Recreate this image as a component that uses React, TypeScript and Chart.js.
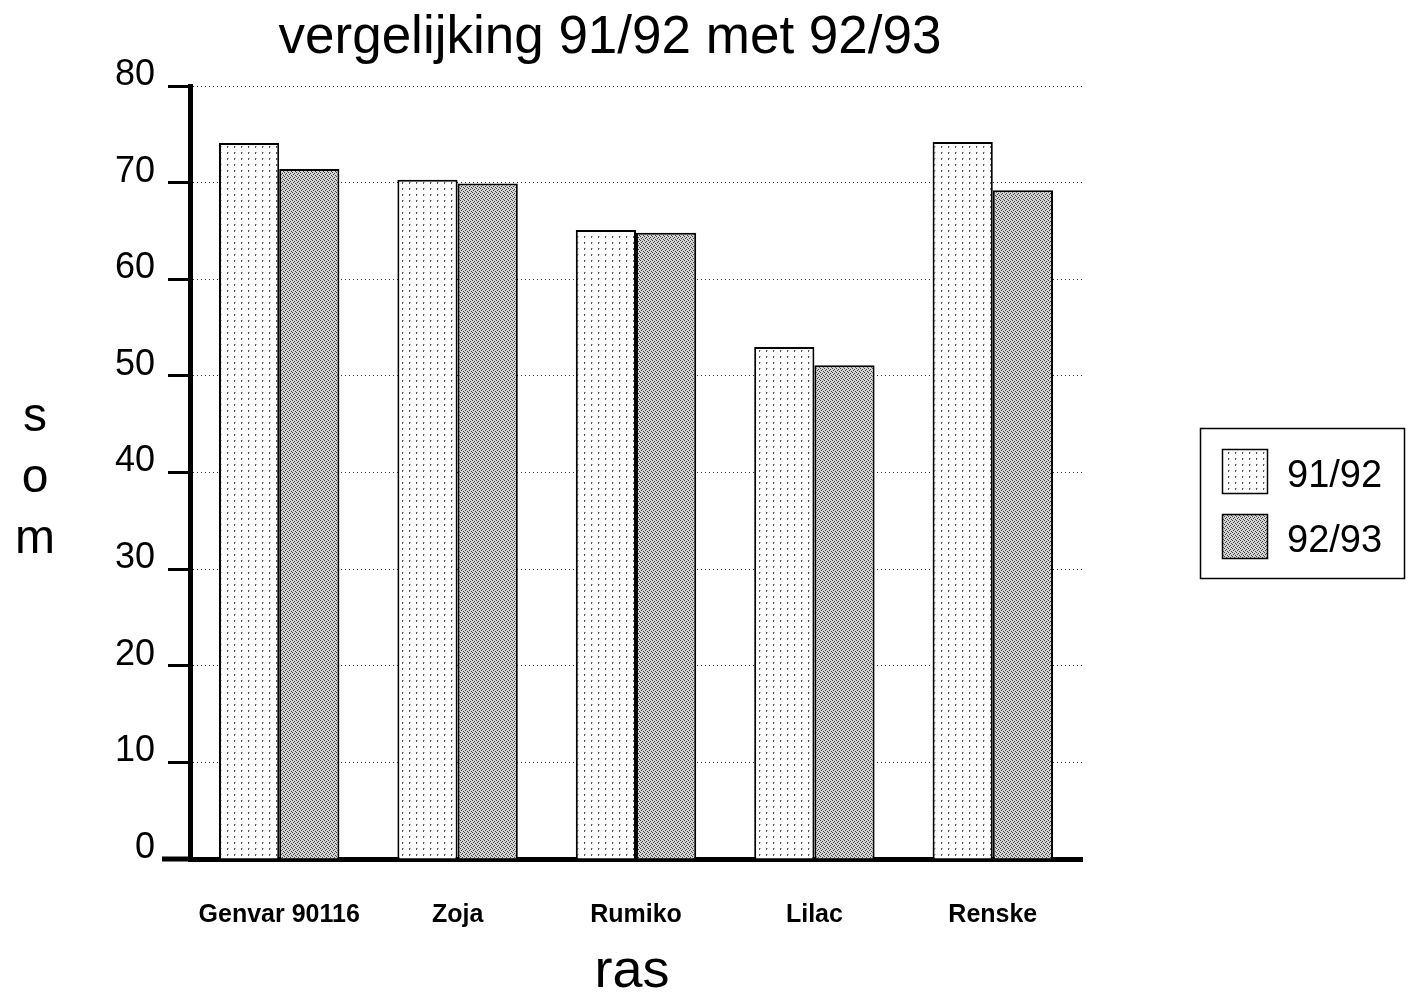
import React, { useEffect, useRef } from "react";
import { Chart, registerables } from "chart.js";

Chart.register(...registerables);

const categories = ["Genvar 90116", "Zoja", "Rumiko", "Lilac", "Renske"];
const seriesNames = ["91/92", "92/93"];
const values9192 = [74.1, 70.3, 65.1, 53.0, 74.2];
const values9293 = [71.4, 69.9, 64.8, 51.1, 69.2];
const yMin = 0;
const yMax = 80;
const yStep = 10;
const titleText = "vergelijking 91/92 met 92/93";
const xTitleText = "ras";
const yTitleLetters = ["s", "o", "m"];

const FONT = '"Liberation Sans", Arial, Helvetica, sans-serif';

function makePattern(kind: "light" | "dark"): CanvasPattern | string {
  const c = document.createElement("canvas");
  if (kind === "light") {
    c.width = 7;
    c.height = 6;
    const g = c.getContext("2d")!;
    g.fillStyle = "#ffffff";
    g.fillRect(0, 0, 7, 6);
    g.fillStyle = "#555555";
    g.fillRect(3, 2, 1, 2);
    g.fillStyle = "#bbbbbb";
    g.fillRect(4, 2, 1, 1);
  } else {
    c.width = 4;
    c.height = 4;
    const g = c.getContext("2d")!;
    g.fillStyle = "#d2d2d2";
    g.fillRect(0, 0, 4, 4);
    g.fillStyle = "#444444";
    g.fillRect(0, 0, 1, 1);
    g.fillRect(2, 1, 1, 1);
    g.fillRect(1, 2, 1, 1);
    g.fillRect(3, 3, 1, 1);
  }
  const ctx = document.createElement("canvas").getContext("2d")!;
  return ctx.createPattern(c, "repeat") || (kind === "light" ? "#f2f2f2" : "#aaaaaa");
}

export default function App() {
  const ref = useRef<HTMLCanvasElement | null>(null);

  useEffect(() => {
    document.body.style.margin = "0";
    document.body.style.overflow = "hidden";
    const canvas = ref.current;
    if (!canvas) return;
    const light = makePattern("light");
    const dark = makePattern("dark");
    const fills = [light, dark];

    const decor = {
      id: "decor",
      afterDraw(chart: any) {
        const { ctx, chartArea } = chart;
        ctx.save();
        ctx.fillStyle = "#000";
        // x axis line extending left past the y axis
        ctx.fillRect(162, chartArea.bottom - 2.5, chartArea.left - 162 + 3, 5);

        // title
        ctx.font = `53px ${FONT}`;
        ctx.textAlign = "center";
        ctx.textBaseline = "alphabetic";
        ctx.fillText(titleText, 610, 53);

        // x title
        ctx.font = `54px ${FONT}`;
        ctx.fillText(xTitleText, 632, 987);

        // y title, stacked letters
        ctx.font = `48px ${FONT}`;
        yTitleLetters.forEach((l, i) => {
          ctx.fillText(l, 35, 431 + i * 61);
        });

        // legend
        ctx.lineWidth = 1.5;
        ctx.strokeStyle = "#000";
        ctx.strokeRect(1200.5, 428.5, 204, 150);
        ctx.font = `38px ${FONT}`;
        ctx.textAlign = "left";
        seriesNames.forEach((name, i) => {
          const y = 449 + i * 65;
          ctx.fillStyle = fills[i] as any;
          ctx.fillRect(1222, y, 45, 44);
          ctx.lineWidth = 1.5;
          ctx.strokeRect(1222.5, y + 0.5, 45, 44);
          ctx.fillStyle = "#000";
          ctx.fillText(name, 1287, y + 38);
        });
        ctx.restore();
      },
    };

    const chart = new Chart(canvas, {
      type: "bar",
      data: {
        labels: categories,
        datasets: [
          {
            label: seriesNames[0],
            data: values9192,
            backgroundColor: light as any,
            borderColor: "#000",
            borderWidth: 2,
            borderSkipped: "bottom",
            categoryPercentage: 0.675,
            barPercentage: 1.0,
          },
          {
            label: seriesNames[1],
            data: values9293,
            backgroundColor: dark as any,
            borderColor: "#000",
            borderWidth: 2,
            borderSkipped: "bottom",
            categoryPercentage: 0.675,
            barPercentage: 1.0,
          },
        ],
      },
      options: {
        animation: false,
        responsive: true,
        maintainAspectRatio: false,
        layout: { padding: { top: 86, right: 331, bottom: 0, left: 0 } },
        plugins: {
          legend: { display: false },
          tooltip: { enabled: false },
          title: { display: false },
        },
        scales: {
          x: {
            grid: { display: false, drawTicks: false },
            border: { display: true, color: "#000", width: 5 },
            ticks: {
              color: "#000",
              font: { family: FONT, size: 25, weight: "bold" },
              padding: 41,
              maxRotation: 0,
              autoSkip: false,
            },
            afterFit: (scale: any) => {
              scale.height = 133;
            },
          },
          y: {
            min: yMin,
            max: yMax,
            ticks: {
              stepSize: yStep,
              color: "#000",
              font: { family: FONT, size: 36 },
              padding: 13,
              labelOffset: -11,
            },
            grid: {
              color: "#333",
              lineWidth: 1,
              drawTicks: true,
              tickLength: 22,
              tickColor: "#000",
              tickWidth: 3,
              tickBorderDash: [],
            },
            border: { display: true, color: "#000", width: 5, dash: [1, 3] },
            afterFit: (scale: any) => {
              scale.width = 190;
            },
          },
        },
      },
      plugins: [decor],
    });

    return () => {
      chart.destroy();
    };
  }, []);

  return (
    <div style={{ position: "relative", width: "1413px", height: "992px" }}>
      <canvas ref={ref} />
    </div>
  );
}
